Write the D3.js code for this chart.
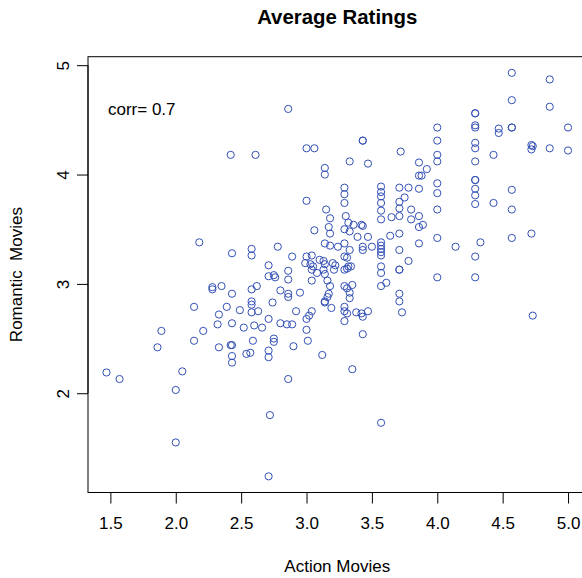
<!DOCTYPE html>
<html>
<head>
<meta charset="utf-8">
<script src="https://cdn.jsdelivr.net/npm/d3@7"></script>
<style>
  html, body { margin: 0; padding: 0; background: #fff; }
  svg { display: block; }
  text { font-family: "Liberation Sans", Arial, Helvetica, sans-serif; fill: #000; }
</style>
</head>
<body>
<svg id="chart" width="582" height="578"></svg>
<script>
// Average rating per viewer: action movies (x) vs romantic movies (y)
const actionRatings = [
  2.42, 2.61, 2.86, 3.00, 3.06, 3.43, 3.43, 3.72, 3.33, 3.47, 3.14, 3.14, 3.29, 3.29, 3.29,
  3.57, 3.57, 3.57, 3.57, 3.57, 3.57, 3.71, 3.78, 3.75, 3.00, 3.71, 3.71, 3.71, 3.80, 3.80, 3.65,
  4.57, 4.86, 4.57, 4.86, 4.29, 4.29, 4.29, 4.29, 4.47, 4.47, 4.57, 4.57, 5.00, 4.00, 4.00,
  4.29, 4.29, 4.72, 4.73, 4.72, 4.86, 5.00, 4.43, 4.00, 4.00, 3.86, 3.92, 3.86, 3.88, 4.29,
  4.29, 4.29, 4.29, 4.29, 3.86, 4.00, 4.00, 4.57, 4.43, 4.00, 4.29, 4.57, 3.86, 3.86, 3.89,
  4.00, 3.86, 4.14, 4.33, 4.57, 4.72, 4.29, 4.00, 4.29, 4.73, 3.78,
  3.15, 3.18, 3.30, 3.32, 3.36, 3.42, 3.43, 3.17, 3.06, 3.18, 3.29, 3.33, 3.39, 3.47, 3.64, 3.71,
  3.57, 3.57, 3.57, 3.57, 3.57, 3.14, 3.18, 3.24, 3.29, 3.33, 3.43, 3.43, 3.50, 3.71,
  2.78, 2.58, 2.58, 2.89, 3.00, 3.04, 2.99, 3.03, 3.05, 3.04, 3.10, 3.13, 3.14, 3.20, 3.22,
  3.29, 3.31, 3.32, 3.34, 3.29, 3.31, 3.13, 3.14, 3.08, 3.21, 2.71, 2.86, 2.71, 2.75, 2.76,
  2.86, 3.04, 3.16, 3.18, 3.57, 3.57, 3.71, 3.71, 3.57, 3.61, 3.29, 3.31, 3.35, 3.33, 3.33,
  2.62, 2.58, 2.80, 2.86, 2.86, 2.95, 3.17, 3.16, 3.14, 3.14, 2.74, 2.58, 2.58, 2.58, 2.63,
  2.92, 3.19, 3.29, 3.29, 3.31, 3.38, 3.42, 3.43, 3.47, 3.71, 3.71, 3.73, 3.00, 3.02, 3.04,
  2.71, 2.60, 2.66, 2.80, 2.85, 2.89, 3.00, 3.29, 3.43, 2.59, 2.75, 2.75, 2.90, 3.01,
  2.18, 2.43, 2.28, 2.28, 2.35, 2.43, 2.14, 2.39, 2.33, 2.49, 2.32, 2.43, 2.52, 1.89, 2.21,
  2.14, 1.86, 2.33, 2.42, 2.43, 2.43, 2.43, 2.54, 2.57, 1.47, 1.57, 2.05, 2.00, 2.00,
  2.71, 2.71, 3.12, 3.35, 2.86, 2.72, 3.57, 2.71
];
const romanticRatings = [
  4.18, 4.18, 4.60, 4.24, 4.24, 4.31, 4.31, 4.21, 4.12, 4.10, 4.06, 4.00, 3.88, 3.82, 3.74,
  3.89, 3.84, 3.80, 3.74, 3.67, 3.59, 3.88, 3.88, 3.79, 3.76, 3.75, 3.69, 3.62, 3.68, 3.59, 3.61,
  4.93, 4.87, 4.68, 4.62, 4.56, 4.56, 4.45, 4.43, 4.42, 4.38, 4.43, 4.43, 4.43, 4.43, 4.31,
  4.29, 4.24, 4.27, 4.26, 4.23, 4.24, 4.22, 4.18, 4.18, 4.12, 4.11, 4.05, 3.99, 3.99, 4.12,
  3.95, 3.95, 3.87, 3.81, 3.87, 3.92, 3.83, 3.86, 3.74, 3.68, 3.73, 3.68, 3.62, 3.52, 3.54,
  3.42, 3.37, 3.34, 3.38, 3.42, 3.46, 3.25, 3.06, 3.06, 2.71, 3.21,
  3.68, 3.60, 3.62, 3.56, 3.54, 3.54, 3.53, 3.52, 3.49, 3.46, 3.50, 3.48, 3.43, 3.43, 3.44, 3.46,
  3.38, 3.35, 3.32, 3.29, 3.26, 3.37, 3.35, 3.34, 3.37, 3.31, 3.34, 3.31, 3.34, 3.31,
  3.34, 3.32, 3.26, 3.25, 3.25, 3.26, 3.19, 3.18, 3.16, 3.13, 3.22, 3.21, 3.18, 3.19, 3.17,
  3.25, 3.24, 3.16, 3.16, 3.13, 3.14, 3.13, 3.09, 3.10, 3.13, 3.17, 3.12, 3.07, 3.08, 3.06,
  3.04, 3.03, 3.03, 2.98, 3.16, 3.10, 3.13, 3.13, 2.98, 3.01, 2.98, 2.96, 2.99, 2.92, 2.87,
  2.98, 2.95, 2.94, 2.91, 2.88, 2.92, 2.91, 2.88, 2.84, 2.83, 2.83, 2.84, 2.81, 2.74, 2.75,
  2.75, 2.78, 2.79, 2.75, 2.73, 2.74, 2.73, 2.70, 2.75, 2.91, 2.84, 2.74, 2.68, 2.71, 2.75,
  2.68, 2.62, 2.60, 2.64, 2.63, 2.63, 2.58, 2.66, 2.54, 2.48, 2.50, 2.47, 2.43, 2.48,
  3.38, 3.28, 2.97, 2.95, 2.98, 2.91, 2.79, 2.79, 2.72, 2.76, 2.63, 2.64, 2.60, 2.57, 2.57,
  2.48, 2.42, 2.42, 2.44, 2.44, 2.34, 2.28, 2.36, 2.37, 2.19, 2.13, 2.20, 2.03, 1.55,
  2.39, 2.33, 2.35, 2.22, 2.13, 1.80, 1.73, 1.24
];
const xTicks = [1.5, 2.0, 2.5, 3.0, 3.5, 4.0, 4.5, 5.0];
const yTicks = [2, 3, 4, 5];
const corrLabel = "corr= 0.7";

const points = actionRatings.map((a, i) => ({ a, r: romanticRatings[i] }));

const svg = d3.select("#chart");
const box = { left: 88, right: 586.5, top: 56.7, bottom: 492.5 };

// pad the data range by 4% on each side
function padded(values) {
  const [lo, hi] = d3.extent(values);
  const p = (hi - lo) * 0.04;
  return [lo - p, hi + p];
}

const x = d3.scaleLinear().domain(padded(actionRatings)).range([box.left, box.right]);
const y = d3.scaleLinear().domain(padded(romanticRatings)).range([box.bottom, box.top]);

const fontSize = 17;
const ink = "#000";

// points
svg.append("g")
  .selectAll("circle")
  .data(points)
  .join("circle")
  .attr("cx", d => x(d.a))
  .attr("cy", d => y(d.r))
  .attr("r", 3.6)
  .attr("fill", "none")
  .attr("stroke", "#3350b5")
  .attr("stroke-width", 1);

// frame
svg.append("rect")
  .attr("x", box.left).attr("y", box.top)
  .attr("width", box.right - box.left).attr("height", box.bottom - box.top)
  .attr("fill", "none").attr("stroke", ink).attr("stroke-width", 1);

// x axis
const xAxis = d3.axisBottom(x).tickValues(xTicks).tickFormat(d3.format(".1f"))
  .tickSize(11).tickPadding(6);
const gx = svg.append("g").attr("transform", `translate(0,${box.bottom})`).call(xAxis);
gx.select(".domain").attr("d", `M${x(xTicks[0])},0H${x(xTicks[xTicks.length - 1])}`).attr("stroke", ink);
gx.selectAll(".tick line").attr("stroke", ink);
gx.selectAll(".tick text")
  .attr("font-size", fontSize).attr("font-family", null).attr("fill", ink)
  .attr("dy", null).attr("y", 36.5);

// y axis with upright-rotated labels
const yAxis = d3.axisLeft(y).tickValues(yTicks).tickFormat(d3.format("d")).tickSize(11);
const gy = svg.append("g").attr("transform", `translate(${box.left},0)`).call(yAxis);
gy.select(".domain").attr("d", `M0,${y(yTicks[0])}V${y(yTicks[yTicks.length - 1])}`).attr("stroke", ink);
gy.selectAll(".tick line").attr("stroke", ink);
gy.selectAll(".tick text")
  .attr("font-size", fontSize).attr("font-family", null).attr("fill", ink)
  .attr("x", null).attr("dy", null)
  .attr("text-anchor", "middle")
  .attr("transform", "translate(-19,0) rotate(-90)");

// titles
const midX = (box.left + box.right) / 2;
const midY = (box.top + box.bottom) / 2;

svg.append("text")
  .attr("x", midX).attr("y", 24)
  .attr("text-anchor", "middle")
  .attr("font-size", 20.4).attr("font-weight", "bold")
  .text("Average Ratings");

svg.append("text")
  .attr("x", midX).attr("y", 572)
  .attr("text-anchor", "middle")
  .attr("font-size", fontSize)
  .text("Action Movies");

svg.append("text")
  .attr("transform", `translate(22,${midY}) rotate(-90)`)
  .attr("text-anchor", "middle")
  .attr("font-size", fontSize)
  .style("white-space", "pre")
  .text("Romantic  Movies");

// correlation note
svg.append("text")
  .attr("x", x(1.74)).attr("y", y(4.6) + 6)
  .attr("text-anchor", "middle")
  .attr("font-size", fontSize)
  .text(corrLabel);
</script>
</body>
</html>
